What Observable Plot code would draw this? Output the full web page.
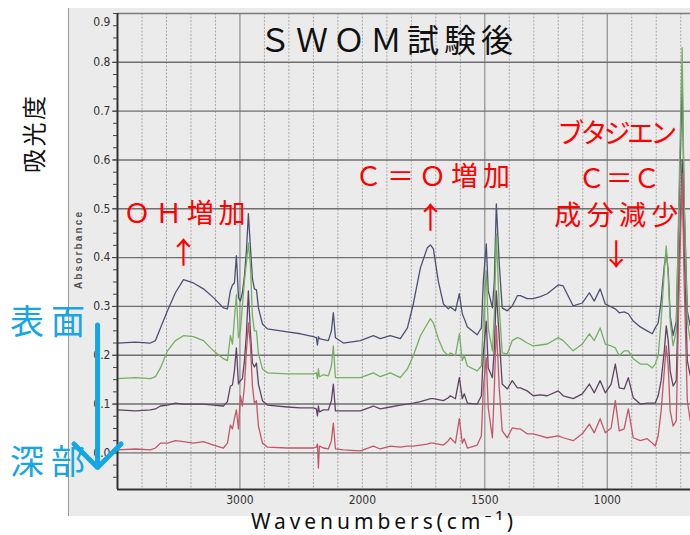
<!DOCTYPE html>
<html><head><meta charset="utf-8">
<script src="https://cdn.jsdelivr.net/npm/d3@7"></script>
<script src="https://cdn.jsdelivr.net/npm/@observablehq/plot@0.6"></script>
<style>body{margin:0;background:#fff;}</style>
</head><body><div id="chart"></div>
<script>
// Wavenumbers (cm-1) shared by the four spectra
const wavenumbers = [
  4000,3853,3731,3690,3649,3592,3527,3461,3380,3298,
  3216,3135,3102,3078,3061,3045,3029,3012,2996,2980,
  2963,2947,2931,2914,2898,2882,2865,2849,2816,2776,
  2612,2506,2400,2376,2367,2359,2351,2318,2278,2253,
  2237,2220,2155,2016,1955,1927,1886,1845,1816,1792,
  1763,1735,1722,1710,1690,1669,1649,1641,1620,1604,
  1592,1584,1571,1531,1514,1506,1494,1486,1469,1461,
  1453,1441,1429,1408,1388,1367,1355,1327,1302,1273,
  1245,1200,1180,1139,1102,1073,1053,1029,1008,984,
  967,951,931,914,894,865,837,816,804,792,
  780,767,759,751,743,731,718,706,694,686,
  673,661];
// Absorbance, surface (top, navy)
const surface = [
  0.225,0.227,0.225,0.230,0.256,0.291,0.328,0.355,0.348,0.336,
  0.318,0.297,0.295,0.332,0.344,0.348,0.404,0.318,0.311,0.328,
  0.363,0.414,0.490,0.420,0.357,0.336,0.334,0.297,0.264,0.254,
  0.248,0.244,0.238,0.236,0.221,0.238,0.234,0.232,0.230,0.250,
  0.287,0.236,0.225,0.230,0.240,0.234,0.240,0.234,0.256,0.305,
  0.379,0.420,0.426,0.418,0.352,0.305,0.295,0.299,0.291,0.326,
  0.285,0.275,0.258,0.242,0.256,0.352,0.428,0.332,0.297,0.352,
  0.510,0.387,0.297,0.291,0.301,0.322,0.322,0.316,0.316,0.320,
  0.326,0.344,0.342,0.301,0.307,0.328,0.311,0.336,0.305,0.299,
  0.295,0.287,0.289,0.285,0.270,0.258,0.250,0.244,0.256,0.266,
  0.311,0.383,0.410,0.373,0.281,0.240,0.270,0.516,0.762,0.516,
  0.291,0.260];
// second layer (green)
const layer2 = [
  0.152,0.154,0.152,0.156,0.174,0.209,0.230,0.240,0.238,0.230,
  0.209,0.193,0.189,0.240,0.223,0.275,0.324,0.236,0.250,0.301,
  0.352,0.389,0.430,0.383,0.281,0.250,0.250,0.203,0.172,0.164,
  0.162,0.162,0.162,0.164,0.152,0.172,0.156,0.160,0.158,0.178,
  0.219,0.154,0.154,0.154,0.164,0.156,0.164,0.154,0.172,0.199,
  0.240,0.264,0.275,0.266,0.234,0.209,0.199,0.205,0.199,0.244,
  0.189,0.199,0.178,0.168,0.178,0.270,0.373,0.256,0.209,0.285,
  0.449,0.297,0.205,0.203,0.230,0.236,0.234,0.225,0.219,0.221,
  0.223,0.236,0.230,0.209,0.223,0.244,0.230,0.256,0.223,0.219,
  0.215,0.199,0.209,0.209,0.193,0.182,0.182,0.174,0.182,0.199,
  0.270,0.373,0.424,0.363,0.270,0.219,0.250,0.557,0.830,0.516,
  0.270,0.230];
// third layer (dark purple)
const layer3 = [
  0.088,0.086,0.088,0.090,0.096,0.098,0.102,0.100,0.100,0.100,
  0.098,0.096,0.105,0.137,0.139,0.168,0.215,0.141,0.148,0.152,
  0.189,0.244,0.332,0.244,0.184,0.176,0.184,0.141,0.107,0.098,
  0.094,0.092,0.092,0.090,0.076,0.096,0.084,0.088,0.088,0.107,
  0.141,0.086,0.086,0.086,0.096,0.090,0.094,0.098,0.100,0.102,
  0.105,0.109,0.111,0.111,0.109,0.107,0.113,0.117,0.111,0.154,
  0.111,0.121,0.102,0.100,0.117,0.203,0.270,0.174,0.154,0.215,
  0.332,0.236,0.141,0.131,0.148,0.133,0.133,0.127,0.117,0.119,
  0.117,0.127,0.117,0.111,0.121,0.141,0.123,0.148,0.123,0.141,
  0.182,0.133,0.131,0.154,0.113,0.100,0.102,0.102,0.102,0.117,
  0.148,0.209,0.260,0.230,0.168,0.137,0.148,0.393,0.600,0.414,
  0.189,0.158];
// deep layer (red)
const deep = [
  0.006,0.008,0.006,0.010,0.020,0.020,0.025,0.023,0.020,0.023,
  0.016,0.010,0.020,0.057,0.049,0.070,0.088,0.049,0.117,0.096,
  0.137,0.209,0.266,0.219,0.137,0.102,0.107,0.055,0.020,0.012,
  0.010,0.010,0.010,0.012,0.018,-0.031,0.014,0.010,0.008,0.025,
  0.061,0.008,0.006,0.004,0.014,0.008,0.014,0.012,0.014,0.014,
  0.016,0.018,0.020,0.020,0.018,0.016,0.025,0.031,0.020,0.070,
  0.020,0.029,0.010,0.016,0.035,0.133,0.195,0.092,0.031,0.133,
  0.260,0.133,0.045,0.031,0.051,0.049,0.049,0.039,0.039,0.035,
  0.031,0.035,0.031,0.025,0.039,0.059,0.041,0.070,0.041,0.051,
  0.107,0.045,0.049,0.090,0.031,0.025,0.029,0.020,0.014,0.035,
  0.086,0.168,0.219,0.178,0.086,0.055,0.066,0.352,0.572,0.352,
  0.107,0.066];

const seriesValues = [surface, layer2, layer3, deep];
const seriesColors = ["#4d5170", "#76ae62", "#5d4560", "#c4566a"];

const yTickValues = [0, 0.1, 0.2, 0.3, 0.4, 0.5, 0.6, 0.7, 0.8];
const yMinorTicks = d3.range(-0.05, 0.9001, 0.025);
const xTickValues = [3000, 2000, 1500, 1000];
const xGridLight = [3800,3600,3400,3200,2800,2600,2400,2200,2000,1900,1800,1700,1600,1400,1300,1200,1100,900,800,700];
const xGridDark = [3000, 1500, 1000];

const titleText = "ＳＷＯＭ試験後";
const yTitle = "吸光度";
const xTitle = "Wavenumbers(cm⁻¹)";
const redNotes = [
  {text: "ＯＨ増加", wn: 3453, a: 0.488},
  {text: "Ｃ＝Ｏ増加", wn: 1714, a: 0.565},
  {text: "ブタジエン", wn: 959, a: 0.652},
  {text: "Ｃ＝Ｃ", wn: 951, a: 0.561},
  {text: "成分減少", wn: 963, a: 0.484}
];
const redArrows = [
  {text: "↑", wn: 3461, a: 0.408},
  {text: "↑", wn: 1722, a: 0.480},
  {text: "↓", wn: 963, a: 0.404}
];
const depthLabels = [{text: "表面", a: 0.266}, {text: "深部", a: -0.020}];
const depthArrow = [{wn: 4163, a1: 0.262, a2: -0.030}];

const blue = "#15a6e6";
const jp = "'Noto Sans CJK JP', sans-serif";
const narrow = "'Liberation Sans Narrow','DejaVu Sans Condensed',sans-serif";

// the spectrometer expands the axis 2x below 2000 cm-1
const expand = w => (w >= 2000 ? w : 2 * w - 2000);

const lineMarks = seriesValues.map((vals, k) =>
  Plot.line(wavenumbers.map((w, i) => ({wn: w, a: vals[i]})),
    {x: "wn", y: "a", stroke: seriesColors[k], strokeWidth: 1.3})
);

const svg = Plot.plot({
  width: 690, height: 535,
  marginLeft: 117, marginRight: 0, marginTop: 13, marginBottom: 46,
  style: {fontFamily: narrow, fontSize: "12px", color: "#333", background: "transparent"},
  x: {transform: expand, domain: [4000, expand(660)]},
  y: {domain: [-0.075, 0.9]},
  marks: [
    Plot.ruleX(xGridLight, {stroke: "#a9a9a9", strokeWidth: 1, strokeDasharray: "2,1.5"}),
    Plot.ruleX(xGridDark, {stroke: "#8e8e8e", strokeWidth: 1.2}),
    Plot.ruleY(yTickValues, {stroke: "#6f6f6f", strokeWidth: 1.4}),
    Plot.ruleY([0.9], {stroke: "#7a7a7a", strokeWidth: 1.3}),
    ...lineMarks,
    Plot.ruleX([4000], {stroke: "#333", strokeWidth: 2}),
    Plot.ruleY([-0.075], {stroke: "#333", strokeWidth: 2}),
    Plot.axisY(yMinorTicks, {tickSize: 4, fill: "none", stroke: "#444", label: null}),
    Plot.axisY(yTickValues, {tickSize: 5, tickPadding: 2, tickFormat: d3.format(".1f"), stroke: "#444", fill: "#333", fontSize: 12, label: null}),
    Plot.text([0.9], {y: d => d, text: d => d.toFixed(1), frameAnchor: "left", dx: -7, dy: 9, textAnchor: "end", lineAnchor: "middle", fill: "#333", fontSize: 12}),
    Plot.axisX(xTickValues, {tickSize: 0, tickPadding: 6, tickFormat: d3.format("d"), fill: "#333", fontSize: 12, label: null}),
    Plot.text([titleText], {frameAnchor: "top", dx: -18, dy: 28, textAnchor: "middle", lineAnchor: "middle", fontSize: 32, fontFamily: jp, fill: "#111"}),
    Plot.text([yTitle], {frameAnchor: "top-left", dx: -82, dy: 121, textAnchor: "middle", lineAnchor: "middle", rotate: -90, fontSize: 24, fontFamily: jp, fill: "#111"}),
    Plot.text(["Absorbance"], {frameAnchor: "top-left", dx: -39, dy: 237, textAnchor: "middle", lineAnchor: "middle", rotate: -90, fontSize: 10, fontWeight: "bold", fontFamily: "'Liberation Sans',sans-serif", fill: "#555"}),
    Plot.text([xTitle], {frameAnchor: "bottom", dx: -22, dy: 33, textAnchor: "middle", lineAnchor: "middle", fontSize: 21, fontFamily: "'Noto Sans',sans-serif", fill: "#111"}),
    Plot.text(redNotes, {x: "wn", y: "a", text: "text", textAnchor: "middle", lineAnchor: "middle", fill: "#ff0000", fontSize: 27, fontFamily: jp}),
    Plot.text(redArrows, {x: "wn", y: "a", text: "text", textAnchor: "middle", lineAnchor: "middle", fill: "#ff0000", fontSize: 30, fontFamily: jp}),
    Plot.text(depthLabels, {y: "a", text: "text", frameAnchor: "left", dx: -70, textAnchor: "middle", lineAnchor: "middle", fill: blue, fontSize: 34, fontFamily: jp}),
    Plot.arrow(depthArrow, {x1: "wn", x2: "wn", y1: "a1", y2: "a2", stroke: blue, strokeWidth: 5, headAngle: 90, headLength: 10, bend: false})
  ]
});

const sel = d3.select(svg);
sel.insert("rect", ":first-child").attr("x", 68).attr("y", 8).attr("width", 622).attr("height", 508).attr("fill", "#ebebeb");
sel.insert("line", "rect + *").attr("x1", 68.5).attr("x2", 68.5).attr("y1", 8).attr("y2", 516).attr("stroke", "#9a9a9a");
const fits = {"ＳＷＯＭ試験後": 254, "ＯＨ増加": 122, "Ｃ＝Ｏ増加": 155, "ブタジエン": 120, "Ｃ＝Ｃ": 82, "成分減少": 124, "表面": 75, "深部": 75, "吸光度": 77, "Absorbance": 77, "Wavenumbers(cm⁻¹)": 262};
sel.selectAll("text").each(function() {
  const t = this.textContent;
  if (fits[t]) { this.setAttribute("textLength", fits[t]); this.setAttribute("lengthAdjust", "spacing"); }
});
document.getElementById("chart").appendChild(svg);
</script>
</body></html>
